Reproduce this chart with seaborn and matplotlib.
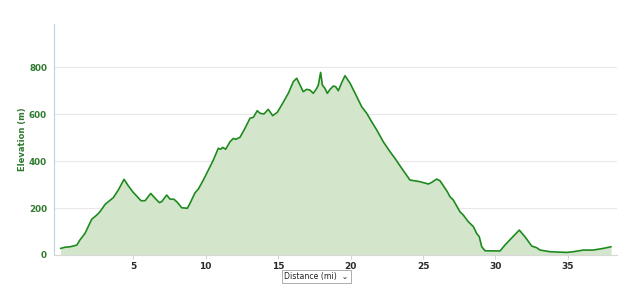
import matplotlib
matplotlib.use("Agg")
import matplotlib.pyplot as plt
import seaborn as sns
import pandas as pd

distance_mi = [0.0, 0.31, 0.66, 1.12, 1.34, 1.69, 2.15, 2.5, 2.72, 3.07, 3.3, 3.64, 3.99, 4.38,
               4.68, 4.98, 5.55, 5.83, 6.22, 6.47, 6.81, 6.98, 7.32, 7.55, 7.83, 8.06, 8.36,
               8.75, 8.93, 9.28, 9.5, 9.85, 10.2, 10.54, 10.88, 11.05, 11.18, 11.39, 11.69,
               11.92, 12.08, 12.38, 12.72, 13.07, 13.3, 13.57, 13.76, 14.03, 14.33, 14.63,
               14.95, 15.25, 15.71, 16.06, 16.29, 16.52, 16.74, 16.98, 17.2, 17.43, 17.67,
               17.78, 17.94, 18.06, 18.24, 18.4, 18.59, 18.81, 18.98, 19.16, 19.39, 19.62,
               19.97, 20.43, 20.77, 21.12, 21.46, 21.81, 22.26, 22.72, 23.07, 23.53, 24.1,
               24.79, 25.37, 25.6, 25.94, 26.17, 26.4, 26.68, 26.86, 27.09, 27.55, 27.78,
               28.12, 28.47, 28.7, 28.88, 29.05, 29.28, 30.31, 30.66, 31.64, 32.03, 32.5,
               32.84, 33.07, 33.76, 34.91, 35.37, 36.06, 36.74, 37.43, 37.97]
elevation_m = [28, 33, 35, 42, 64, 92, 152, 170, 184, 215, 227, 244, 277, 322,
               294, 269, 231, 231, 262, 245, 223, 227, 255, 238, 237, 224, 201,
               199, 220, 265, 280, 319, 362, 404, 454, 450, 458, 450, 482,
               496, 492, 501, 539, 582, 586, 614, 603, 600, 620, 593,
               607, 638, 688, 738, 752, 723, 695, 705, 702, 688, 709,
               723, 777, 723, 709, 688, 705, 719, 716, 699, 733, 763,
               731, 674, 631, 603, 567, 532, 482, 440, 411, 369, 319,
               312, 302, 309, 323, 316, 295, 269, 248, 234, 184, 170,
               142, 121, 92, 78, 35, 18, 17, 43, 106, 78, 38,
               31, 21, 14, 11, 14, 21, 21, 28, 35]
y_ticks = [0, 200, 400, 600, 800]
x_ticks = [5, 10, 15, 20, 25, 30, 35]
y_label = "Elevation (m)"
x_label = "Distance (mi)"

df = pd.DataFrame({"distance": distance_mi, "elevation": elevation_m})

sns.set_style("white")
fig = plt.figure(figsize=(6.4, 2.94), dpi=100)
W, H = 640, 294
ax = fig.add_axes([54 / W, 1 - 255 / H, (617 - 54) / W, (255 - 24) / H])

ax.fill_between(df["distance"], df["elevation"], 0, color="#d3e6cb", linewidth=0, zorder=1)
sns.lineplot(data=df, x="distance", y="elevation", ax=ax, color="#1e8a1e", linewidth=1.2, zorder=3)

ax.set_xlim(-0.45, 38.38)
ax.set_ylim(0, 983)
ax.set_yticks(y_ticks)
ax.set_xticks(x_ticks)
ax.set_yticklabels([str(v) for v in y_ticks], fontsize=6.3, fontweight="bold", color="#2f7a2f")
ax.set_xticklabels([str(v) for v in x_ticks], fontsize=6.5, fontweight="bold", color="#2a2a2a")
ax.grid(axis="y", color="#e8e8e8", linewidth=0.8, zorder=0)
ax.set_axisbelow(True)
ax.tick_params(axis="y", length=0, pad=5)
ax.tick_params(axis="x", length=3, width=0.6, color="#c0d0e0", pad=2, direction="out")
ax.xaxis.set_ticks_position("bottom")

for s in ["top", "right"]:
    ax.spines[s].set_visible(False)
ax.spines["left"].set_color("#c0d0e0")
ax.spines["left"].set_linewidth(0.8)
ax.spines["bottom"].set_color("#d8d8d8")
ax.spines["bottom"].set_linewidth(0.8)

ax.set_xlabel("")
ax.set_ylabel("")
fig.text(23 / W, 1 - 139.5 / H, y_label, rotation=90, ha="center", va="center",
         fontsize=6.0, fontweight="bold", color="#2f7a2f")

# dropdown-like x label
fig.text(284 / W, 1 - 276.5 / H, x_label + "  \u2304", ha="left", va="center",
         fontsize=5.6, color="#222222",
         bbox=dict(boxstyle="square,pad=0.3", facecolor="white", edgecolor="#a0a0a0", linewidth=0.6))

fig.savefig("out.png", dpi=100)
